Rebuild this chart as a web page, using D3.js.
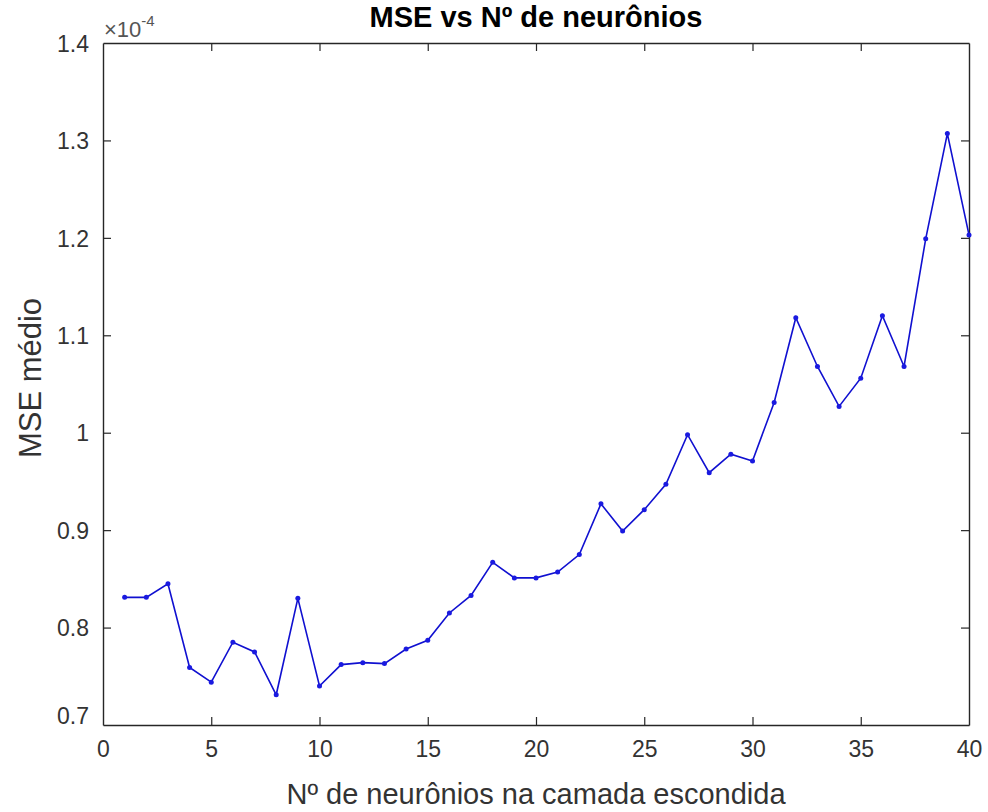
<!DOCTYPE html>
<html>
<head>
<meta charset="utf-8">
<script src="https://cdnjs.cloudflare.com/ajax/libs/d3/7.8.5/d3.min.js"></script>
<style>
  html, body { margin: 0; padding: 0; background: #fff; }
  svg { display: block; }
  text { font-family: "Liberation Sans", Arial, Helvetica, sans-serif; }
</style>
</head>
<body>
<svg id="chart" width="988" height="812"></svg>
<script>
const neurons = d3.range(1, 41);
const mseValues = [
  0.831, 0.831, 0.845, 0.759, 0.744, 0.785, 0.775, 0.731, 0.830, 0.740,
  0.762, 0.764, 0.763, 0.778, 0.787, 0.815, 0.833, 0.867, 0.851, 0.851,
  0.857, 0.875, 0.927, 0.899, 0.921, 0.947, 0.998, 0.959, 0.978, 0.971,
  1.031, 1.118, 1.068, 1.027, 1.056, 1.120, 1.068, 1.199, 1.307, 1.203
];
const xTicks = [0, 5, 10, 15, 20, 25, 30, 35, 40];
const yTicks = [0.7, 0.8, 0.9, 1.0, 1.1, 1.2, 1.3, 1.4];
const yTickLabels = ["0.7", "0.8", "0.9", "1", "1.1", "1.2", "1.3", "1.4"];
const titleText = "MSE vs Nº de neurônios";
const xLabelText = "Nº de neurônios na camada escondida";
const yLabelText = "MSE médio";

(function () {
const svg = d3.select("#chart");
const mLeft = 103, mRight = 969, mTop = 43, mBottom = 725;
const x = d3.scaleLinear().domain([0, 40]).range([mLeft, mRight]);
const y = d3.scaleLinear().domain([0.7, 1.4]).range([mBottom, mTop]);
const axisColor = "#262626";
const labelColor = "#333333";
const tickLen = 8;

const xAxisB = svg.append("g").attr("transform", `translate(0,${mBottom})`)
  .call(d3.axisBottom(x).tickValues(xTicks).tickSizeInner(-tickLen).tickSizeOuter(0).tickFormat(d3.format("d")));
const xAxisT = svg.append("g").attr("transform", `translate(0,${mTop})`)
  .call(d3.axisTop(x).tickValues(xTicks).tickSizeInner(-tickLen).tickSizeOuter(0).tickFormat(""));
const yAxisL = svg.append("g").attr("transform", `translate(${mLeft},0)`)
  .call(d3.axisLeft(y).tickValues(yTicks).tickSizeInner(-tickLen).tickSizeOuter(0).tickPadding(14).tickFormat((d, i) => yTickLabels[i]));
const yAxisR = svg.append("g").attr("transform", `translate(${mRight},0)`)
  .call(d3.axisRight(y).tickValues(yTicks).tickSizeInner(-tickLen).tickSizeOuter(0).tickFormat(""));

[xAxisB, xAxisT, yAxisL, yAxisR].forEach(g => {
  g.select(".domain").attr("stroke", axisColor).attr("stroke-width", 1.4);
  g.selectAll(".tick line").attr("stroke", axisColor).attr("stroke-width", 1.2);
  g.selectAll(".tick text").attr("fill", labelColor).style("font-size", "23px");
});
xAxisB.selectAll(".tick text").attr("y", 32).attr("dy", 0);
yAxisL.selectAll(".tick text").attr("dy", "0.36em");
yAxisL.selectAll(".tick text").filter(d => d === 0.7).attr("dy", "-0.05em");
[xAxisB, xAxisT].forEach(g => g.selectAll(".tick line").filter(d => d === 0 || d === 40).remove());
[yAxisL, yAxisR].forEach(g => g.selectAll(".tick line").filter(d => d === 0.7 || d === 1.4).remove());

const data = neurons.map((n, i) => ({ n, v: mseValues[i] }));
svg.append("path").datum(data)
  .attr("fill", "none").attr("stroke", "#1010d0").attr("stroke-width", 1.6)
  .attr("d", d3.line().x(d => x(d.n)).y(d => y(d.v)));
svg.append("g").selectAll("circle").data(data).join("circle")
  .attr("cx", d => x(d.n)).attr("cy", d => y(d.v)).attr("r", 2.5).attr("fill", "#1a1ae0");

const ex = svg.append("text").attr("x", mLeft + 1).attr("y", 37).attr("fill", "#555").style("font-size", "22px");
ex.append("tspan").text("×10");
ex.append("tspan").attr("dy", -11).style("font-size", "15px").text("-4");

svg.append("text").attr("x", (mLeft + mRight) / 2).attr("y", 27).attr("text-anchor", "middle")
  .style("font-size", "29px").style("font-weight", "bold").attr("fill", "#000").text(titleText);

svg.append("text").attr("x", (mLeft + mRight) / 2).attr("y", 804).attr("text-anchor", "middle")
  .style("font-size", "29px").attr("fill", labelColor).text(xLabelText);

svg.append("text").attr("transform", `translate(41,378) rotate(-90)`).attr("text-anchor", "middle")
  .style("font-size", "31px").attr("fill", labelColor).text(yLabelText);
})();
</script>
</body>
</html>
